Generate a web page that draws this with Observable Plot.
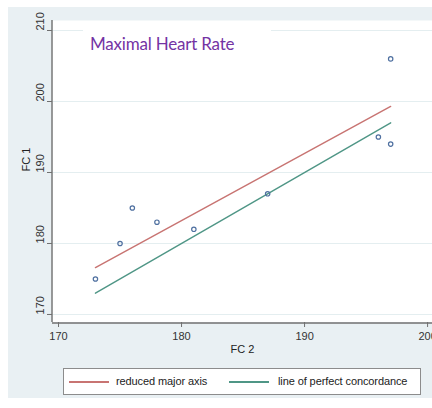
<!DOCTYPE html>
<html><head><meta charset="utf-8">
<script src="https://cdn.jsdelivr.net/npm/d3@7"></script>
<script src="https://cdn.jsdelivr.net/npm/@observablehq/plot@0.6"></script>
<style>
body{margin:0;background:#fff;}
#wrap{position:relative;width:432px;height:408px;overflow:hidden;background:#fff;font-family:"Liberation Sans",Arial,sans-serif;}
#bg{position:absolute;left:8px;top:7px;width:424px;height:391px;background:#e9f0f3;}
#chart{position:absolute;left:0;top:0;}
#title{position:absolute;left:83px;top:25px;width:188px;height:36px;background:#fff;color:#7433a4;font-family:Lato,"Open Sans",sans-serif;font-size:17px;line-height:38px;padding-left:7px;box-sizing:border-box;white-space:nowrap;letter-spacing:-0.2px;}
#legend{position:absolute;left:63px;top:368px;width:358px;height:27px;background:#fff;border:1px solid #8c8c8c;box-sizing:border-box;font-size:11px;color:#222;}
.sw{position:absolute;top:12px;height:2px;width:40px;}
.lt{position:absolute;top:6px;white-space:nowrap;letter-spacing:-0.1px;}
</style></head>
<body>
<div id="wrap">
  <div id="bg"></div>
  <div id="chart"></div>
  <div id="title"></div>
  <div id="legend"></div>
</div>
<script>
const titleText = "Maximal Heart Rate";
const fc2 = [173, 175, 176, 178, 181, 187, 196, 197, 197];
const fc1 = [175, 180, 185, 183, 182, 187, 195, 194, 206];
const lineX = [173, 197];
const rmaY = [176.6, 199.3];
const concY = [173, 197];
const xTicks = [170, 180, 190, 200];
const yTicks = [170, 180, 190, 200, 210];
const seriesNames = ["reduced major axis", "line of perfect concordance"];
const seriesColors = ["#c87472", "#4f9686"];
const xLabel = "FC 2", yLabel = "FC 1";

const pts = fc2.map((x, i) => ({x, y: fc1[i]}));
const rma = lineX.map((x, i) => ({x, y: rmaY[i]}));
const conc = lineX.map((x, i) => ({x, y: concY[i]}));
const xDom = [169.51, 200.4], yDom = [168.87, 211.41];

const plot = Plot.plot({
  width: 432, height: 408,
  marginLeft: 52, marginRight: 0, marginTop: 20, marginBottom: 86,
  style: {background: "transparent", fontFamily: "'Liberation Sans', Arial, sans-serif", fontSize: "11px", color: "#333"},
  x: {domain: xDom},
  y: {domain: yDom},
  marks: [
    Plot.frame({fill: "white", stroke: null}),
    Plot.ruleY(yTicks, {stroke: "#e4eef0", strokeWidth: 1.2}),
    Plot.line(rma, {x: "x", y: "y", stroke: seriesColors[0], strokeWidth: 1.4}),
    Plot.line(conc, {x: "x", y: "y", stroke: seriesColors[1], strokeWidth: 1.4}),
    Plot.dot(pts, {x: "x", y: "y", r: 2.2, stroke: "#4f70a0", strokeWidth: 1.2, fill: "none"}),
    Plot.ruleX([xDom[0]], {stroke: "#707070", strokeWidth: 1.4, dx: -0.5}),
    Plot.ruleY([yDom[0]], {stroke: "#707070", strokeWidth: 1.4, dy: 0.5}),
    Plot.axisX({ticks: xTicks, tickSize: 5, tickPadding: 5, fontSize: 11, label: null, stroke: "#707070", color: "#333"}),
    Plot.axisY({ticks: yTicks, tickSize: 5, tickFormat: () => "", label: null, stroke: "#707070"}),
    Plot.text(yTicks, {y: d => d, text: d => String(d), frameAnchor: "left", dx: -12, rotate: -90, fontSize: 11, fill: "#333"}),
    Plot.text([xLabel], {frameAnchor: "bottom", dy: 30, fontSize: 11, fill: "#222"}),
    Plot.text([yLabel], {frameAnchor: "left", dx: -26, rotate: -90, fontSize: 11, fill: "#222"})
  ]
});
document.getElementById("chart").appendChild(plot);
document.getElementById("title").textContent = titleText;

const leg = document.getElementById("legend");
const swX = [5, 165], txX = [52, 214];
seriesNames.forEach((n, i) => {
  const s = document.createElement("div");
  s.className = "sw"; s.style.left = swX[i] + "px"; s.style.background = seriesColors[i];
  leg.appendChild(s);
  const t = document.createElement("div");
  t.className = "lt"; t.style.left = txX[i] + "px"; t.textContent = n;
  leg.appendChild(t);
});
</script>
</body></html>
